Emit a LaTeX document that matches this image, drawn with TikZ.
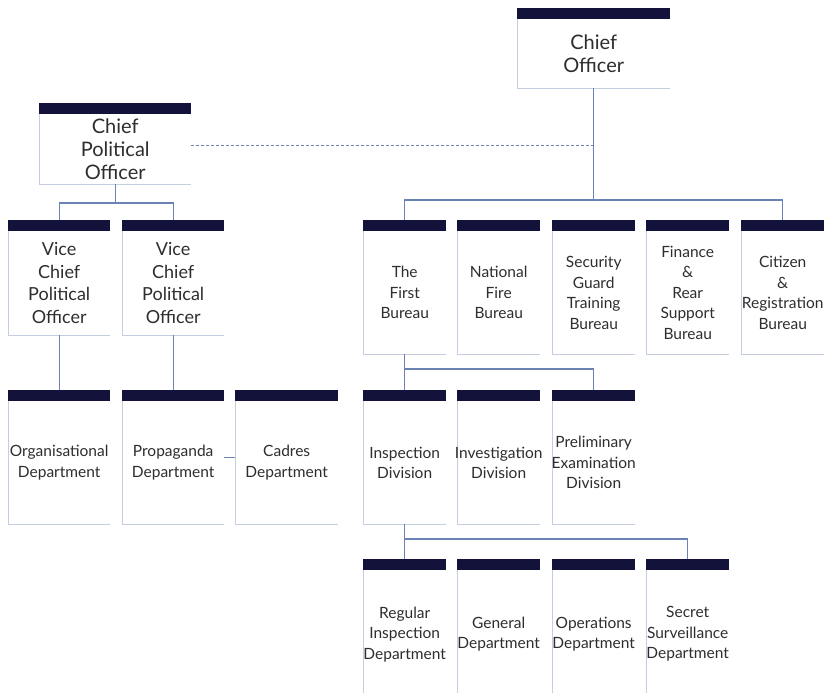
\documentclass[tikz,border=0pt]{standalone}
\usepackage{fontspec}
\setmainfont{Lato}
\definecolor{barnavy}{HTML}{12123A}
\definecolor{edgegray}{HTML}{C5CDE0}
\definecolor{linkblue}{HTML}{6B82B5}
\definecolor{inkgray}{HTML}{2E2E2E}
\tikzset{
  body/.style={rectangle, inner sep=0pt, anchor=north west},
  label text/.style={inner sep=0pt, align=center, text=inkgray},
  tbig/.style={font=\fontsize{20}{23}\selectfont},
  tvice/.style={font=\fontsize{18}{22.5}\selectfont},
  tmid/.style={font=\fontsize{15.5}{20.5}\selectfont},
  conn/.style={draw=linkblue, line width=1.2pt},
}
% name, left x, bar top y, width, body height, text style, text
\newcommand\orgbox[7]{%
  \node[body,minimum width=#4pt,minimum height=#5pt] (#1) at (#2,#3+11) {};
  \fill[barnavy] (#1.north west) rectangle ([yshift=11pt]#1.north east);
  \draw[edgegray, line width=1pt] (#1.north west) -- (#1.south west) -- (#1.south east);
  \node[label text,#6] (#1-t) at (#1.center) {#7};
  \coordinate (#1-top) at ([yshift=11pt]#1.north);
}
\begin{document}
\begin{tikzpicture}[x=1pt, y=-1pt]
\fill[white] (0,0) rectangle (828,693);
\useasboundingbox (0,0) rectangle (828,693);

% top level
\orgbox{CO}{517}{8}{153}{69}{tbig}{Chief\\Officer}
\orgbox{CPO}{39}{103}{152}{70}{tbig}{Chief\\Political\\Officer}

% political branch
\orgbox{V1}{8}{220}{102}{104}{tvice}{Vice\\Chief\\Political\\Officer}
\orgbox{V2}{122}{220}{102}{104}{tvice}{Vice\\Chief\\Political\\Officer}
\orgbox{Org}{8}{390}{102}{123}{tmid}{Organisational\\Department}
\orgbox{Prop}{122}{390}{102}{123}{tmid}{Propaganda\\Department}
\orgbox{Cadres}{235}{390}{103}{123}{tmid}{Cadres\\Department}

% bureaus
\orgbox{B1}{363}{220}{83}{123}{tmid}{The\\First\\Bureau}
\orgbox{B2}{457}{220}{83}{123}{tmid}{National\\Fire\\Bureau}
\orgbox{B3}{552}{220}{83}{123}{tmid}{Security\\Guard\\Training\\Bureau}
\orgbox{B4}{646}{220}{83}{123}{tmid}{Finance\\\&\\Rear\\Support\\Bureau}
\orgbox{B5}{741}{220}{83}{123}{tmid}{Citizen\\\&\\Registration\\Bureau}

% divisions
\orgbox{D1}{363}{390}{83}{123}{tmid}{Inspection\\Division}
\orgbox{D2}{457}{390}{83}{123}{tmid}{Investigation\\Division}
\orgbox{D3}{552}{390}{83}{123}{tmid}{Preliminary\\Examination\\Division}

% departments
\orgbox{S1}{363}{559}{83}{128}{tmid}{Regular\\Inspection\\Department}
\orgbox{S2}{457}{559}{83}{128}{tmid}{General\\Department}
\orgbox{S3}{552}{559}{83}{128}{tmid}{Operations\\Department}
\orgbox{S4}{646}{559}{83}{128}{tmid}{Secret\\Surveillance\\Department}

% connectors
\draw[conn] (CO.south) -- ++(0,112);
\draw[conn] (B1-top) -- ++(0,-20) -| (B5-top);
\draw[conn] (CPO.south) -- ++(0,19);
\draw[conn] (V1-top) -- ++(0,-17) -| (V2-top);
\draw[conn] (V1.south) -- (Org-top);
\draw[conn] (V2.south) -- (Prop-top);
\draw[conn] ([yshift=5pt]Prop.east) -- ([yshift=5pt]Cadres.west);
\draw[conn] (B1.south) -- ++(0,15);
\draw[conn] (D1-top) -- ++(0,-21) -| (D3-top);
\draw[conn] (D1.south) -- ++(0,15);
\draw[conn] (S1-top) -- ++(0,-20) -| (S4-top);
\draw[conn, line width=0.8pt, dash pattern=on 3pt off 2pt] (CPO.east |- 0,145) -- (CO.south |- 0,145);
\end{tikzpicture}
\end{document}
